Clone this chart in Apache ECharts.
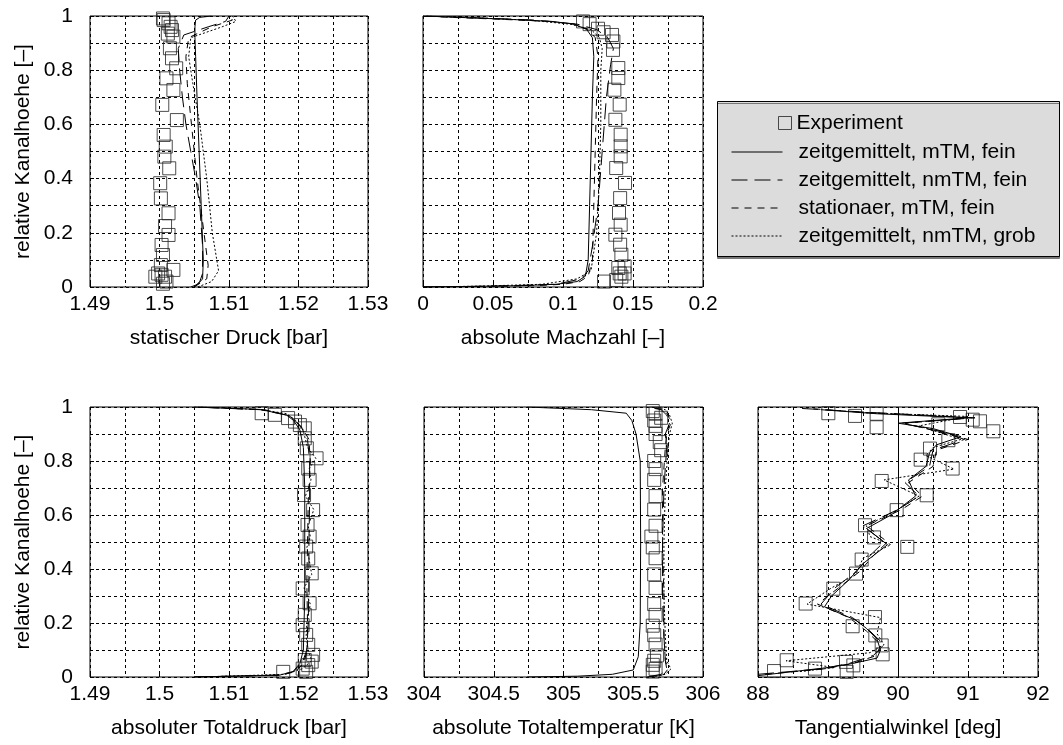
<!DOCTYPE html>
<html>
<head>
<meta charset="utf-8">
<title>Kanalprofile</title>
<script src="https://cdn.jsdelivr.net/npm/echarts@6/dist/echarts.min.js"></script>
<style>
  html, body { margin: 0; padding: 0; background: #fff; }
  #chart { width: 1063px; height: 745px; }
</style>
</head>
<body>
<div id="chart"></div>
<script>
// --- statischer Druck [bar] ---
const sdExpH = [0.991, 0.985, 0.973, 0.96, 0.948, 0.935, 0.924, 0.881, 0.844, 0.807, 0.770, 0.727, 0.672, 0.616, 0.561, 0.518, 0.481, 0.438, 0.383, 0.327, 0.272, 0.225, 0.192, 0.155, 0.118, 0.081, 0.063, 0.050, 0.045, 0.038, 0.038, 0.020, 0.012];
const sdExp = [1.5005, 1.5006, 1.5013, 1.5016, 1.5018, 1.5012, 1.5020, 1.5015, 1.5018, 1.5024, 1.5010, 1.5020, 1.5004, 1.5025, 1.5006, 1.5009, 1.5007, 1.5014, 1.5001, 1.5002, 1.5013, 1.5008, 1.5013, 1.5003, 1.5005, 1.5002, 1.5020, 1.4998, 1.5003, 1.5008, 1.4994, 1.5010, 1.5005];
const sdMtmH = [0, 0.01, 0.03, 0.1, 0.3, 0.5, 0.7, 0.85, 0.92, 0.96, 0.985, 0.995, 1];
const sdMtm = [1.5045, 1.5055, 1.5062, 1.5063, 1.5060, 1.5057, 1.5054, 1.5052, 1.5051, 1.5051, 1.5052, 1.5058, 1.5075];
const sdNmtmH = [0, 0.02, 0.05, 0.15, 0.3, 0.4, 0.5, 0.6, 0.7, 0.8, 0.88, 0.93, 0.96, 0.98, 1];
const sdNmtm = [1.5050, 1.5058, 1.5062, 1.5062, 1.5058, 1.5052, 1.5045, 1.5038, 1.5033, 1.5029, 1.5027, 1.5035, 1.5070, 1.5095, 1.5100];
const sdStatH = [0, 0.03, 0.08, 0.2, 0.4, 0.6, 0.75, 0.85, 0.92, 0.96, 0.985, 1];
const sdStat = [1.5050, 1.5068, 1.5070, 1.5064, 1.5054, 1.5046, 1.5040, 1.5038, 1.5042, 1.5075, 1.5105, 1.5100];
const sdGrobH = [0, 0.02, 0.06, 0.2, 0.4, 0.6, 0.75, 0.85, 0.92, 0.96, 0.98, 1];
const sdGrob = [1.5055, 1.5075, 1.5085, 1.5076, 1.5068, 1.5058, 1.5048, 1.5042, 1.5045, 1.5090, 1.5110, 1.5105];

// --- absolute Machzahl [-] ---
const maExpH = [0.98, 0.97, 0.953, 0.94, 0.93, 0.906, 0.875, 0.808, 0.771, 0.728, 0.673, 0.617, 0.562, 0.519, 0.482, 0.439, 0.384, 0.328, 0.273, 0.23, 0.193, 0.156, 0.119, 0.076, 0.07, 0.05, 0.05, 0.038, 0.026, 0.02];
const maExp = [0.1143, 0.119, 0.125, 0.129, 0.135, 0.136, 0.1357, 0.1395, 0.1395, 0.1367, 0.1405, 0.1374, 0.1412, 0.1412, 0.1412, 0.138, 0.1443, 0.1408, 0.14, 0.1412, 0.1374, 0.1408, 0.1417, 0.144, 0.1395, 0.1405, 0.144, 0.1417, 0.138, 0.1293];
const maMtmH = [0, 0.002, 0.005, 0.01, 0.02, 0.04, 0.1, 0.3, 0.5, 0.7, 0.85, 0.92, 0.95, 0.97, 0.98, 0.988, 0.995, 1];
const maMtm = [0, 0.03, 0.07, 0.095, 0.11, 0.116, 0.118, 0.119, 0.120, 0.121, 0.122, 0.121, 0.117, 0.108, 0.092, 0.06, 0.025, 0];
const maNmtmH = [0, 0.003, 0.01, 0.03, 0.06, 0.15, 0.3, 0.5, 0.7, 0.82, 0.88, 0.92, 0.95, 0.97, 0.985, 0.995, 1];
const maNmtm = [0, 0.05, 0.095, 0.113, 0.118, 0.121, 0.125, 0.128, 0.131, 0.134, 0.136, 0.132, 0.124, 0.11, 0.08, 0.03, 0];
const maStat = [0, 0.04, 0.08, 0.1, 0.112, 0.118, 0.121, 0.122, 0.123, 0.124, 0.125, 0.123, 0.118, 0.108, 0.09, 0.055, 0.02, 0];
const maGrobH = [0, 0.003, 0.01, 0.03, 0.06, 0.2, 0.4, 0.6, 0.8, 0.88, 0.92, 0.95, 0.97, 0.985, 0.995, 1];
const maGrob = [0, 0.04, 0.085, 0.11, 0.12, 0.124, 0.126, 0.127, 0.127, 0.128, 0.126, 0.12, 0.105, 0.075, 0.03, 0];

// --- absoluter Totaldruck [bar] ---
const tdExpH = [0.977, 0.971, 0.959, 0.946, 0.933, 0.921, 0.884, 0.847, 0.81, 0.772, 0.73, 0.674, 0.618, 0.563, 0.52, 0.483, 0.439, 0.384, 0.328, 0.273, 0.23, 0.192, 0.156, 0.119, 0.082, 0.063, 0.057, 0.044, 0.031, 0.019, 0.019];
const tdExp = [1.5147, 1.5166, 1.5185, 1.5195, 1.5202, 1.5209, 1.5209, 1.5212, 1.5226, 1.5214, 1.5216, 1.5208, 1.5221, 1.5213, 1.5216, 1.5211, 1.5214, 1.5219, 1.5206, 1.5216, 1.5209, 1.5206, 1.5211, 1.5214, 1.5221, 1.5209, 1.5219, 1.5214, 1.5206, 1.5178, 1.5211];
const tdMtmH = [0, 0.007, 0.02, 0.05, 0.1, 0.3, 0.5, 0.7, 0.85, 0.915, 0.95, 0.97, 0.991, 1];
const tdMtm = [1.505, 1.5173, 1.5192, 1.5202, 1.5207, 1.5209, 1.5209, 1.5209, 1.5207, 1.5202, 1.5193, 1.5183, 1.5145, 1.505];
const tdNmtmH = [0, 0.007, 0.02, 0.05, 0.1, 0.2, 0.35, 0.5, 0.65, 0.8, 0.88, 0.92, 0.95, 0.97, 0.99, 1];
const tdNmtm = [1.505, 1.5172, 1.5193, 1.5205, 1.5212, 1.5214, 1.5215, 1.5215, 1.5216, 1.5216, 1.5213, 1.5205, 1.5195, 1.5183, 1.5145, 1.505];
const tdStat = [1.505, 1.5175, 1.5196, 1.5207, 1.5213, 1.5213, 1.5212, 1.5213, 1.5214, 1.5217, 1.5215, 1.5206, 1.5196, 1.5185, 1.515, 1.5055];
const tdGrobH = [0, 0.01, 0.03, 0.06, 0.1, 0.15, 0.2, 0.27, 0.33, 0.38, 0.44, 0.48, 0.52, 0.56, 0.62, 0.67, 0.73, 0.77, 0.81, 0.85, 0.88, 0.92, 0.95, 0.975, 0.99, 1];
const tdGrob = [1.506, 1.518, 1.5205, 1.5219, 1.5214, 1.5211, 1.5212, 1.5217, 1.5208, 1.5219, 1.5215, 1.5212, 1.5217, 1.5214, 1.5222, 1.5210, 1.5218, 1.5215, 1.5225, 1.5213, 1.5210, 1.5206, 1.5196, 1.5183, 1.5148, 1.506];

// --- absolute Totaltemperatur [K] ---
const ttExpH = [0.985, 0.975, 0.96, 0.95, 0.93, 0.9, 0.87, 0.84, 0.8, 0.77, 0.73, 0.67, 0.62, 0.56, 0.52, 0.48, 0.44, 0.38, 0.33, 0.27, 0.23, 0.19, 0.155, 0.12, 0.08, 0.06, 0.045, 0.03, 0.02];
const ttExp = [305.64, 305.66, 305.70, 305.65, 305.66, 305.66, 305.69, 305.70, 305.65, 305.66, 305.65, 305.66, 305.65, 305.66, 305.63, 305.64, 305.66, 305.65, 305.66, 305.65, 305.66, 305.64, 305.65, 305.66, 305.67, 305.65, 305.64, 305.66, 305.64];
const ttMtmH = [0, 0.003, 0.01, 0.026, 0.075, 0.2, 0.5, 0.8, 0.9, 0.95, 0.977, 0.99, 1];
const ttMtm = [304.74, 305.1, 305.35, 305.50, 305.536, 305.55, 305.553, 305.55, 305.52, 305.49, 305.45, 305.2, 304.74];
const ttNmtmH = [0, 0.01, 0.03, 0.06, 0.15, 0.3, 0.5, 0.7, 0.85, 0.9, 0.94, 0.97, 0.99, 1];
const ttNmtm = [305.6, 305.7, 305.74, 305.73, 305.72, 305.71, 305.71, 305.72, 305.74, 305.73, 305.76, 305.74, 305.7, 305.6];
const ttStat = [305.62, 305.72, 305.75, 305.73, 305.72, 305.72, 305.71, 305.71, 305.73, 305.74, 305.77, 305.75, 305.72, 305.62];
const ttGrob = [305.63, 305.73, 305.77, 305.74, 305.73, 305.72, 305.72, 305.73, 305.75, 305.76, 305.78, 305.76, 305.73, 305.63];

// --- Tangentialwinkel [deg] ---
const twExpH = [0.977, 0.967, 0.975, 0.925, 0.963, 0.953, 0.947, 0.910, 0.936, 0.877, 0.846, 0.805, 0.772, 0.726, 0.673, 0.618, 0.562, 0.517, 0.482, 0.435, 0.383, 0.327, 0.272, 0.222, 0.188, 0.154, 0.117, 0.084, 0.062, 0.056, 0.043, 0.031, 0.019, 0.022];
const twExp = [89.005, 89.386, 89.695, 89.695, 90.886, 91.067, 91.171, 91.362, 90.576, 90.719, 90.457, 90.324, 90.781, 89.767, 90.41, 89.981, 89.529, 89.657, 90.133, 89.481, 89.4, 89.076, 88.681, 89.671, 89.352, 89.676, 89.767, 89.781, 88.41, 89.257, 89.362, 88.814, 89.267, 88.229];
const twMtmH = [0.005, 0.02, 0.035, 0.05, 0.07, 0.1, 0.14, 0.18, 0.21, 0.26, 0.3, 0.36, 0.42, 0.49, 0.55, 0.6, 0.67, 0.73, 0.78, 0.83, 0.86, 0.89, 0.92, 0.94, 0.96, 0.975, 0.99];
const twMtm = [88.0, 88.5, 89.0, 89.35, 89.7, 89.75, 89.7, 89.55, 89.4, 88.95, 89.05, 89.3, 89.5, 89.85, 89.55, 89.9, 90.25, 90.15, 90.4, 90.45, 90.55, 90.9, 90.5, 90.0, 91.0, 89.7, 88.9];
const twNmtmH = [0.01, 0.03, 0.05, 0.08, 0.12, 0.17, 0.22, 0.27, 0.33, 0.39, 0.45, 0.5, 0.56, 0.62, 0.67, 0.72, 0.78, 0.84, 0.88, 0.91, 0.94, 0.96, 0.98, 0.995];
const twNmtm = [88.0, 88.9, 89.3, 89.65, 89.8, 89.6, 89.35, 88.9, 89.1, 89.4, 89.6, 89.8, 89.5, 90.0, 90.3, 90.1, 90.45, 90.5, 90.95, 90.6, 90.05, 91.1, 89.6, 88.6];
const twStat = [88.1, 88.95, 89.35, 89.7, 89.75, 89.55, 89.3, 88.85, 89.15, 89.45, 89.65, 89.85, 89.55, 90.05, 90.35, 90.15, 90.5, 90.55, 91.0, 90.55, 90.1, 91.05, 89.5, 88.7];
const twGrobH = [0.02, 0.035, 0.06, 0.09, 0.12, 0.16, 0.22, 0.27, 0.33, 0.38, 0.44, 0.49, 0.52, 0.56, 0.62, 0.67, 0.73, 0.77, 0.82, 0.85, 0.88, 0.93, 0.95, 0.965, 0.98];
const twGrob = [88.6, 89.1, 88.4, 89.6, 89.8, 89.7, 89.75, 88.7, 89.05, 89.4, 89.5, 89.9, 89.6, 89.55, 90.0, 90.3, 89.8, 90.8, 90.4, 90.5, 90.9, 90.3, 90.7, 91.0, 89.4];

const names = ['Experiment', 'zeitgemittelt, mTM, fein', 'zeitgemittelt, nmTM, fein', 'stationaer, mTM, fein', 'zeitgemittelt, nmTM, grob'];

const FONT = 'Liberation Sans, Arial, sans-serif';
const pts = (vs, hs) => vs.map((v, i) => [v, hs[i]]);

const grids = [
  {left: 90, top: 16, width: 278, height: 271},
  {left: 423, top: 16, width: 280, height: 271},
  {left: 90, top: 407, width: 278, height: 270},
  {left: 424, top: 407, width: 279, height: 270},
  {left: 758, top: 407, width: 280, height: 270}
].map(g => Object.assign(g, {show: true, borderColor: '#000', borderWidth: 1, backgroundColor: '#fff'}));

const dashed = {color: '#000', width: 1, type: [3, 3]};

function xAx(gi, min, max, step, name) {
  return {
    type: 'value', gridIndex: gi, min: min, max: max, interval: step,
    name: name, nameLocation: 'middle', nameGap: 41,
    nameTextStyle: {fontFamily: FONT, fontSize: 21, color: '#000'},
    axisLine: {show: false},
    axisTick: {show: true, inside: true, length: 4, lineStyle: {color: '#000'}},
    axisLabel: {fontFamily: FONT, fontSize: 21, color: '#000', margin: 7},
    splitLine: {show: true, lineStyle: dashed},
    minorTick: {show: false, splitNumber: 2},
    minorSplitLine: {show: true, lineStyle: dashed}
  };
}

function yAx(gi, labels) {
  return {
    type: 'value', gridIndex: gi, min: 0, max: 1, interval: 0.2,
    name: labels ? 'relative Kanalhoehe [\u2013]' : '', nameLocation: 'middle', nameGap: 56,
    nameTextStyle: {fontFamily: FONT, fontSize: 21, color: '#000'},
    axisLine: {show: false},
    axisTick: {show: true, inside: true, length: 4, lineStyle: {color: '#000'}},
    axisLabel: {show: labels, fontFamily: FONT, fontSize: 21, color: '#000', margin: 17},
    splitLine: {show: true, lineStyle: dashed},
    minorTick: {show: false, splitNumber: 2},
    minorSplitLine: {show: true, lineStyle: dashed}
  };
}

function exp(gi, vs, hs) {
  return {
    name: names[0], type: 'scatter', xAxisIndex: gi, yAxisIndex: gi,
    symbol: 'rect', symbolSize: 13, z: 2,
    itemStyle: {color: 'rgba(0,0,0,0)', borderColor: '#222', borderWidth: 1},
    data: pts(vs, hs)
  };
}

const dashTypes = ['solid', [16, 7], [7, 6], [2, 2]];
function line(gi, k, vs, hs) {
  return {
    name: names[k], type: 'line', xAxisIndex: gi, yAxisIndex: gi,
    symbol: 'none', z: 3,
    itemStyle: {color: '#000'},
    lineStyle: {color: '#000', width: 1, type: dashTypes[k - 1]},
    data: pts(vs, hs)
  };
}

const series = [
  exp(0, sdExp, sdExpH),
  line(0, 1, sdMtm, sdMtmH), line(0, 2, sdNmtm, sdNmtmH), line(0, 3, sdStat, sdStatH), line(0, 4, sdGrob, sdGrobH),
  exp(1, maExp, maExpH),
  line(1, 1, maMtm, maMtmH), line(1, 2, maNmtm, maNmtmH), line(1, 3, maStat, maMtmH), line(1, 4, maGrob, maGrobH),
  exp(2, tdExp, tdExpH),
  line(2, 1, tdMtm, tdMtmH), line(2, 2, tdNmtm, tdNmtmH), line(2, 3, tdStat, tdNmtmH), line(2, 4, tdGrob, tdGrobH),
  exp(3, ttExp, ttExpH),
  line(3, 1, ttMtm, ttMtmH), line(3, 2, ttNmtm, ttNmtmH), line(3, 3, ttStat, ttNmtmH), line(3, 4, ttGrob, ttNmtmH),
  exp(4, twExp, twExpH),
  line(4, 1, twMtm, twMtmH), line(4, 2, twNmtm, twNmtmH), line(4, 3, twStat, twNmtmH), line(4, 4, twGrob, twGrobH)
];
// senkrechte Linie bei 90 Grad
series[21].markLine = {
  silent: true, symbol: 'none', label: {show: false},
  lineStyle: {color: '#000', width: 1, type: 'solid'},
  data: [{xAxis: 90}]
};

const chart = echarts.init(document.getElementById('chart'));
chart.setOption({
  animation: false,
  backgroundColor: '#fff',
  grid: grids,
  xAxis: [
    xAx(0, 1.49, 1.53, 0.01, 'statischer Druck [bar]'),
    xAx(1, 0, 0.2, 0.05, 'absolute Machzahl [\u2013]'),
    xAx(2, 1.49, 1.53, 0.01, 'absoluter Totaldruck [bar]'),
    xAx(3, 304, 306, 0.5, 'absolute Totaltemperatur [K]'),
    xAx(4, 88, 92, 1, 'Tangentialwinkel [deg]')
  ],
  yAxis: [yAx(0, true), yAx(1, false), yAx(2, true), yAx(3, false), yAx(4, false)],
  graphic: [{
    type: 'rect', left: 717, top: 101, z: 1,
    shape: {width: 342, height: 155},
    style: {fill: '#dcdcdc', stroke: '#000', lineWidth: 1, shadowColor: '#777', shadowOffsetY: 2, shadowOffsetX: 0, shadowBlur: 0}
  }],
  legend: [{
    data: [{name: names[0], itemStyle: {color: 'rgba(0,0,0,0)', borderColor: '#222', borderWidth: 1}}],
    left: 778, top: 112, padding: 0, z: 10,
    itemWidth: 13, itemHeight: 13,
    textStyle: {fontFamily: FONT, fontSize: 21, color: '#000', lineHeight: 22}
  }, {
    data: names.slice(1),
    orient: 'vertical', left: 731, top: 141, padding: 0, z: 10,
    itemWidth: 51, itemHeight: 14, itemGap: 6,
    lineStyle: {width: 1},
    itemStyle: {color: 'rgba(0,0,0,0)', borderWidth: 0, opacity: 0},
    textStyle: {fontFamily: FONT, fontSize: 21, color: '#000', lineHeight: 22, padding: [0, 0, 0, 11]}
  }],
  series: series
});
</script>
</body>
</html>
